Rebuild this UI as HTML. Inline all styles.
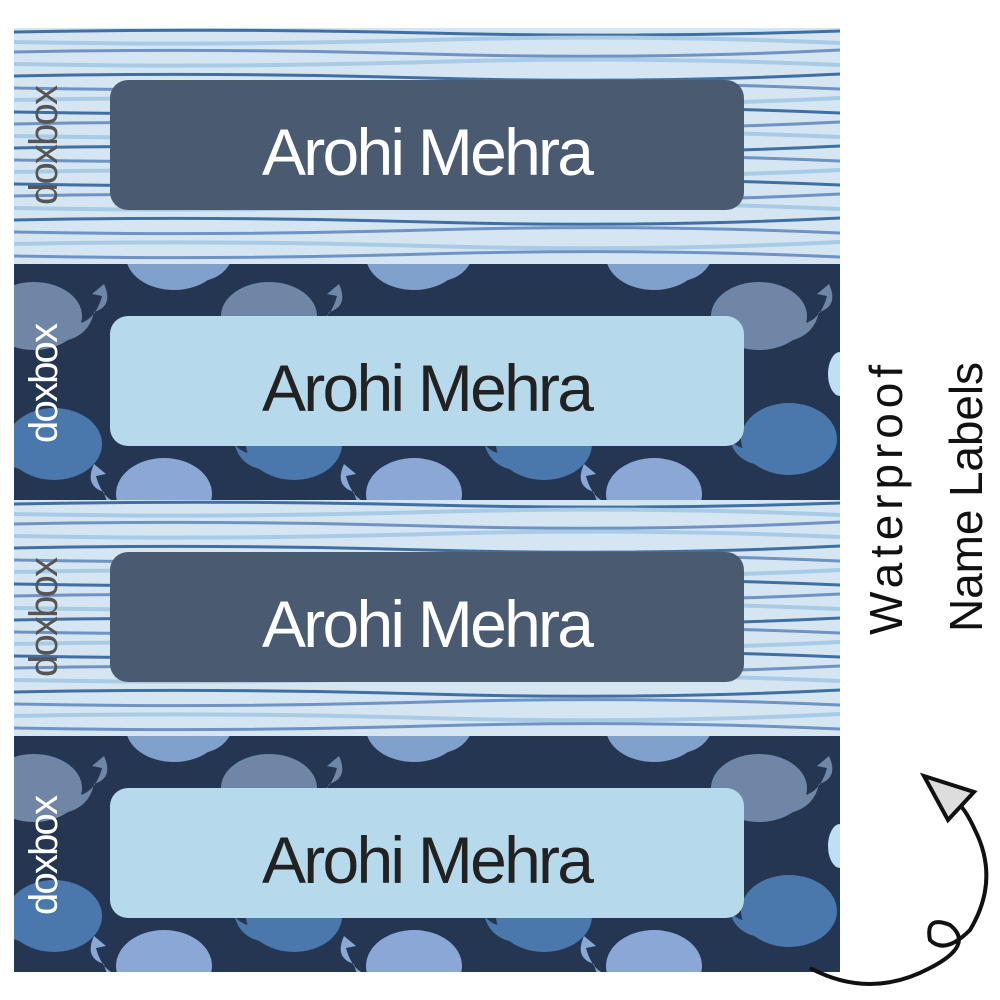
<!DOCTYPE html>
<html><head><meta charset="utf-8"><style>
html,body{margin:0;padding:0;background:#fff;width:1000px;height:1000px;overflow:hidden}
</style></head><body>
<svg width="1000" height="1000" viewBox="0 0 1000 1000" xmlns="http://www.w3.org/2000/svg">
<defs>
<clipPath id="c"><rect x="0" y="0" width="826" height="236"/></clipPath>
<g id="stripes">
<rect x="0" y="0" width="826" height="236" fill="#d5e6f2"/>
<g fill="none" stroke-width="3">
<path d="M0 4 Q200 0 413 5 T826 3" stroke="#3f6fa3"/>
<path d="M0 14 Q200 18 413 12 T826 15" stroke="#a9cbe6" stroke-width="4"/>
<path d="M0 24 Q200 20 413 26 T826 22" stroke="#6f93c4"/>
<path d="M0 36 Q200 40 413 34 T826 37" stroke="#a9cbe6" stroke-width="4"/>
<path d="M0 48 Q200 44 413 50 T826 46" stroke="#3f6fa3"/>
<path d="M0 60 Q200 64 413 58 T826 61" stroke="#6f93c4"/>
<path d="M0 72 Q200 68 413 74 T826 70" stroke="#a9cbe6" stroke-width="4"/>
<path d="M0 84 Q200 88 413 82 T826 85" stroke="#3f6fa3"/>
<path d="M0 96 Q200 92 413 98 T826 94" stroke="#6f93c4"/>
<path d="M0 108 Q200 112 413 106 T826 109" stroke="#a9cbe6" stroke-width="4"/>
<path d="M0 120 Q200 116 413 122 T826 118" stroke="#3f6fa3"/>
<path d="M0 132 Q200 136 413 130 T826 133" stroke="#6f93c4"/>
<path d="M0 144 Q200 140 413 146 T826 142" stroke="#a9cbe6" stroke-width="4"/>
<path d="M0 156 Q200 160 413 154 T826 157" stroke="#3f6fa3"/>
<path d="M0 168 Q200 164 413 170 T826 166" stroke="#6f93c4"/>
<path d="M0 180 Q200 184 413 178 T826 181" stroke="#a9cbe6" stroke-width="4"/>
<path d="M0 192 Q200 188 413 194 T826 190" stroke="#3f6fa3"/>
<path d="M0 204 Q200 208 413 202 T826 205" stroke="#6f93c4"/>
<path d="M0 216 Q200 212 413 218 T826 214" stroke="#a9cbe6" stroke-width="4"/>
<path d="M0 228 Q200 232 413 226 T826 229" stroke="#6f93c4"/>
</g>
</g>
<g id="wR"><ellipse cx="0" cy="0" rx="48" ry="34"/><path d="M35 8 Q60 10 68 -20 L58 -22 L70 -32 Q80 -10 60 -4 Q55 20 30 25Z"/></g>
<g id="wL"><ellipse cx="0" cy="0" rx="48" ry="36"/><path d="M-35 10 Q-60 12 -68 -18 L-58 -20 L-70 -30 Q-80 -8 -60 -2 Q-55 22 -30 26Z"/></g>
<g id="whales" clip-path="url(#c)">
<rect x="0" y="0" width="826" height="236" fill="#243652"/>
<g fill="#7fa1cc"><use href="#wR" x="160" y="-8"/><use href="#wR" x="400" y="-8"/><use href="#wR" x="640" y="-8"/></g>
<g fill="#6f86a6"><use href="#wR" x="20" y="52"/><use href="#wR" x="255" y="52"/><use href="#wR" x="745" y="52"/></g>
<g fill="#4a78ad"><use href="#wL" x="40" y="180"/><use href="#wL" x="280" y="180"/><use href="#wL" x="530" y="180"/><use href="#wL" x="775" y="175"/></g>
<g fill="#bfe0f2"><ellipse cx="826" cy="110" rx="12" ry="22"/></g>
<g fill="#8aa7d6"><use href="#wL" x="150" y="230"/><use href="#wL" x="400" y="230"/><use href="#wL" x="640" y="230"/></g>
</g>
</defs>
<use href="#stripes" x="14" y="28"/>
<use href="#whales" x="14" y="264"/>
<use href="#stripes" x="14" y="500"/>
<use href="#whales" x="14" y="736"/>

<g font-family="Liberation Sans, sans-serif" font-size="66" text-anchor="middle">
<rect x="110" y="80" width="634" height="130" rx="18" fill="#4a5a70"/>
<text x="428" y="175" fill="#fff" textLength="332">Arohi Mehra</text>
<rect x="110" y="316" width="634" height="130" rx="18" fill="#b7d9ec"/>
<text x="428" y="411" fill="#222" textLength="332">Arohi Mehra</text>
<rect x="110" y="552" width="634" height="130" rx="18" fill="#4a5a70"/>
<text x="428" y="647" fill="#fff" textLength="332">Arohi Mehra</text>
<rect x="110" y="788" width="634" height="130" rx="18" fill="#b7d9ec"/>
<text x="428" y="883" fill="#222" textLength="332">Arohi Mehra</text>
</g>

<g font-family="Liberation Sans, sans-serif" font-size="40" text-anchor="middle">
<text transform="translate(57,145) rotate(-90)" fill="#555" textLength="120">doxbox</text>
<text transform="translate(57,383) rotate(-90)" fill="#fff" textLength="120">doxbox</text>
<text transform="translate(57,617) rotate(-90)" fill="#555" textLength="120">doxbox</text>
<text transform="translate(57,855) rotate(-90)" fill="#fff" textLength="120">doxbox</text>
</g>

<g font-family="Liberation Sans, sans-serif" font-size="46" fill="#111" text-anchor="middle">
<text transform="translate(902,500) rotate(-90)" textLength="270">Waterproof</text>
<text transform="translate(982,497) rotate(-90)" textLength="270">Name Labels</text>
</g>

<path d="M810 968 Q870 1000 930 968 Q975 945 950 925 Q925 915 930 940 Q945 955 970 930 Q1000 880 975 830 Q965 808 955 800" fill="none" stroke="#111" stroke-width="4"/>
<path d="M924 776 L974 792 L948 820 Z" fill="#ddd" stroke="#111" stroke-width="4"/>
</svg>
</body></html>
